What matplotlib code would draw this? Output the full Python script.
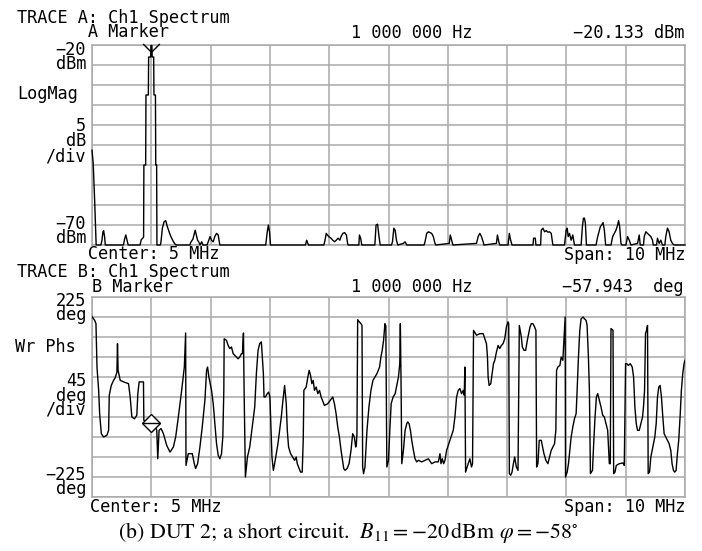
import matplotlib
matplotlib.use("Agg")
import matplotlib.pyplot as plt
from matplotlib.path import Path
import numpy as np

# ---------------- data ----------------
# Trace A: log magnitude spectrum (MHz, dBm)
top_freq_mhz = [
    0.000, 0.020, 0.045, 0.070,
    0.150, 0.168, 0.185, 0.196, 0.213, 0.224,
    0.530, 0.550, 0.570, 0.590, 0.610,
    0.810, 0.830, 0.855, 0.870, 0.875, 0.905, 0.910, 0.950, 0.955, 0.990, 0.995, 1.010, 1.015, 1.040, 1.045, 1.070, 1.075, 1.090, 1.095,
    1.150, 1.160, 1.187, 1.215, 1.243, 1.270, 1.300, 1.330, 1.360, 1.390, 1.420,
    1.650, 1.670, 1.700, 1.720, 1.740, 1.760, 1.780, 1.800, 1.820, 1.850, 1.870,
    1.940, 1.960, 1.990, 2.016, 2.044, 2.070, 2.100, 2.128, 2.156,
    2.930, 2.955, 2.975, 2.995, 3.010,
    3.600, 3.620, 3.650,
    3.910, 3.930, 3.950, 3.970, 4.000, 4.030, 4.060, 4.090, 4.120, 4.150, 4.180, 4.200, 4.230, 4.260, 4.290, 4.310, 4.320,
    4.500, 4.510, 4.530, 4.550,
    4.770, 4.790, 4.816, 4.840, 4.860,
    5.050, 5.067, 5.090, 5.112, 5.134, 5.157,
    5.250, 5.280, 5.310,
    5.600, 5.616, 5.644, 5.672, 5.700, 5.728, 5.756, 5.784, 5.800,
    6.025, 6.042, 6.064, 6.086,
    6.484, 6.512, 6.540, 6.568, 6.596, 6.610,
    6.820, 6.837, 6.860, 6.875,
    7.016, 7.038, 7.060, 7.083,
    7.436, 7.447, 7.475, 7.486,
    7.565, 7.576, 7.604, 7.632, 7.660, 7.688, 7.716, 7.744, 7.772,
    7.968, 7.996, 8.013, 8.030, 8.052, 8.080, 8.108, 8.136,
    8.248, 8.270, 8.287, 8.304, 8.320, 8.338,
    8.500, 8.528, 8.573, 8.595, 8.618, 8.640, 8.662,
    8.752, 8.780, 8.808, 8.836, 8.864, 8.880, 8.898, 8.920, 8.935,
    9.004, 9.032, 9.060, 9.088,
    9.200, 9.228, 9.245,
    9.300, 9.312, 9.340, 9.368, 9.396, 9.424, 9.452, 9.465,
    9.520, 9.536, 9.564, 9.592, 9.620,
    9.660, 9.676, 9.704, 9.732, 9.760, 9.788, 9.816, 10.000,
]
top_level_dbm = [
    -46.3, -49.5, -59.0, -70.0,
    -70.0, -68.8, -66.7, -66.4, -68.0, -70.0,
    -70.0, -68.5, -67.5, -68.7, -70.0,
    -70.0, -68.7, -68.3, -68.0, -50.0, -50.0, -32.5, -32.5, -23.0, -23.0, -20.13, -20.13, -23.0, -23.0, -32.5, -32.5, -50.0, -50.0, -70.0,
    -70.0, -69.6, -65.8, -64.2, -63.9, -65.4, -66.7, -67.9, -68.8, -69.6, -70.0,
    -70.0, -69.2, -68.6, -67.5, -66.3, -67.5, -68.8, -69.2, -70.0, -69.2, -70.0,
    -70.0, -69.2, -67.9, -68.8, -69.2, -67.9, -67.1, -67.5, -70.0,
    -70.0, -66.7, -65.0, -66.9, -70.0,
    -70.0, -68.8, -70.0,
    -70.0, -68.8, -67.1, -67.5, -68.0, -68.3, -68.8, -69.2, -68.8, -68.3, -68.8, -67.9, -67.1, -66.9, -67.5, -69.6, -70.0,
    -70.0, -67.5, -68.3, -70.0,
    -70.0, -65.0, -64.8, -67.9, -70.0,
    -70.0, -69.2, -65.8, -66.3, -68.8, -70.0,
    -69.6, -69.2, -70.0,
    -70.0, -69.2, -67.1, -66.7, -66.9, -67.1, -67.9, -69.6, -70.0,
    -69.6, -67.5, -68.8, -70.0,
    -69.6, -67.9, -67.1, -67.9, -69.2, -70.0,
    -69.6, -67.5, -69.2, -70.0,
    -70.0, -67.1, -68.8, -70.0,
    -70.0, -68.3, -68.3, -70.0,
    -70.0, -66.3, -65.8, -66.7, -66.4, -66.8, -66.7, -67.1, -70.0,
    -70.0, -66.3, -65.8, -67.9, -67.1, -68.8, -67.5, -70.0,
    -70.0, -65.4, -63.3, -63.3, -64.6, -70.0,
    -70.0, -67.9, -65.4, -65.0, -64.4, -66.3, -70.0,
    -70.0, -67.9, -67.1, -66.3, -65.0, -63.9, -65.4, -69.6, -70.0,
    -70.0, -67.9, -68.8, -70.0,
    -69.6, -67.5, -70.0,
    -70.0, -67.9, -66.7, -67.1, -67.5, -67.9, -68.8, -70.0,
    -70.0, -68.3, -69.6, -68.8, -70.0,
    -70.0, -67.9, -65.8, -66.7, -68.8, -69.6, -70.0, -70.0,
]

# Trace B: wrapped phase (MHz, deg)
phase_freq_mhz = [
    0.000, 0.045, 0.067, 0.084, 0.112, 0.129, 0.157, 0.196, 0.252, 0.280, 0.291, 0.325, 0.364, 0.392, 0.420, 0.430, 0.440,
    0.476, 0.532, 0.616, 0.644, 0.672, 0.717, 0.756, 0.773, 0.795, 0.868, 0.874, 0.952, 1.000, 1.064, 1.092, 1.109, 1.131,
    1.165, 1.204, 1.260, 1.316, 1.372, 1.411, 1.456, 1.512, 1.557, 1.579, 1.585, 1.624, 1.691, 1.725, 1.747, 1.781, 1.820,
    1.859, 1.904, 1.932, 1.949, 1.971, 2.016, 2.044, 2.072, 2.100, 2.128, 2.156, 2.184, 2.206, 2.223, 2.229, 2.268, 2.296,
    2.324, 2.352, 2.380, 2.436, 2.464, 2.492, 2.520, 2.537, 2.554, 2.565, 2.587, 2.621, 2.660, 2.688, 2.744, 2.772, 2.800,
    2.828, 2.856, 2.873, 2.890, 2.901, 2.923, 2.957, 2.979, 3.000, 3.035, 3.058, 3.080, 3.108, 3.136, 3.164, 3.192, 3.220,
    3.248, 3.276, 3.293, 3.315, 3.349, 3.416, 3.444, 3.461, 3.483, 3.517, 3.545, 3.562, 3.573, 3.612, 3.640, 3.662, 3.685,
    3.707, 3.730, 3.752, 3.780, 3.808, 3.836, 3.864, 3.920, 3.976, 4.060, 4.088, 4.116, 4.144, 4.172, 4.200, 4.245, 4.267,
    4.301, 4.335, 4.368, 4.396, 4.424, 4.446, 4.457, 4.468, 4.480, 4.508, 4.536, 4.553, 4.564, 4.580, 4.603, 4.637, 4.670,
    4.704, 4.738, 4.771, 4.805, 4.850, 4.872, 4.894, 4.917, 4.940, 4.955, 4.972, 5.000, 5.022, 5.045, 5.078, 5.112, 5.146,
    5.168, 5.190, 5.200, 5.213, 5.224, 5.252, 5.280, 5.308, 5.325, 5.347, 5.370, 5.392, 5.420, 5.448, 5.476, 5.504, 5.560,
    5.616, 5.672, 5.728, 5.784, 5.840, 5.868, 5.885, 5.907, 5.930, 5.952, 5.980, 6.036, 6.092, 6.120, 6.148, 6.176, 6.204,
    6.232, 6.260, 6.277, 6.288, 6.300, 6.344, 6.372, 6.400, 6.417, 6.434, 6.484, 6.540, 6.596, 6.624, 6.652, 6.669, 6.680,
    6.697, 6.725, 6.747, 6.770, 6.792, 6.820, 6.848, 6.876, 6.904, 6.932, 6.960, 6.988, 7.016, 7.027, 7.038, 7.061, 7.083,
    7.106, 7.128, 7.156, 7.184, 7.206, 7.240, 7.257, 7.285, 7.313, 7.341, 7.363, 7.386, 7.408, 7.436, 7.464, 7.486, 7.498,
    7.520, 7.542, 7.576, 7.598, 7.621, 7.654, 7.688, 7.716, 7.744, 7.772, 7.800, 7.822, 7.834, 7.856, 7.890, 7.912, 7.940,
    7.979, 7.985, 8.013, 8.035, 8.058, 8.080, 8.108, 8.136, 8.164, 8.181, 8.203, 8.226, 8.248, 8.282, 8.304, 8.332, 8.349,
    8.371, 8.388, 8.405, 8.440, 8.460, 8.483, 8.506, 8.528, 8.556, 8.584, 8.612, 8.640, 8.668, 8.696, 8.724, 8.740, 8.752,
    8.786, 8.797, 8.819, 8.842, 8.892, 8.954, 8.976, 8.998, 9.020, 9.043, 9.077, 9.110, 9.133, 9.155, 9.178, 9.200, 9.228,
    9.256, 9.284, 9.300, 9.318, 9.334, 9.351, 9.368, 9.379, 9.402, 9.424, 9.446, 9.469, 9.491, 9.514, 9.536, 9.558, 9.580,
    9.603, 9.626, 9.648, 9.676, 9.704, 9.732, 9.760, 9.782, 9.805, 9.827, 9.850, 9.872, 9.894, 9.917, 9.939, 9.962, 9.984,
    10.000,
]
phase_deg = [
    181, 172.5, 165, 67.5, 15, -37.5, -82.5, -90, -86, -75, 4, 26, 37.5, 43.5, 56, 120, 60,
    37.5, 34, 30, 0, -45, -49, -41, 7.5, 34, 34, -52.5, -56, -58, -64, -75, -139, -75,
    -71, -82.5, -109, -124, -112.5, -90, -45, 15, 67.5, 144, -154, -127.5, -127.5, -150, -161, -150, -112.5,
    -67.5, -7.5, 60, 67.5, 45, 15, -15, -60, -105, -131, -139, -127.5, -90, 15, 131, 127.5, 116,
    109, 112.5, 97.5, 90, 86, 90, 97.5, 97.5, 144, 15, -180, -135, -112.5, -82.5, -22.5, 52.5, 105,
    120, 124, 90, 52.5, 0, 0, 7.5, 11, 0, -135, -165, -150, -127.5, -105, -75, -45, -7.5,
    26, -15, -75, -112.5, -127.5, -142.5, -135, -150, -157.5, -169, -169, -97.5, 15, 22.5, 45, 60, 49,
    30, 37.5, 15, 22.5, 7.5, 15, 0, -19, -15, 0, -15, -37.5, -67.5, -90, -120, -161, -165,
    -161, -150, -120, -82.5, -90, -112.5, -109, -82.5, 174, 169, 165, 161, -157.5, -172.5, -157.5, -75, -22.5,
    15, 37.5, 45, 52.5, 67.5, 90, 105, 127.5, 165, 160, -157.5, -142.5, -75, -15, 0, 7.5, 30,
    45, 75, 165, 15, -150, -120, -75, -60, -56, -60, -75, -97.5, -120, -139, -146, -142.5, -146,
    -142.5, -139, -150, -146, -146, -127.5, -150, -139, -150, -142.5, -120, -97.5, -75, -45, 0, 15, 19,
    7.5, 15, 4, 67.5, -169, -150, -139, -157.5, -150, 150, 139, 142.5, 142.5, 131, 120, 90, 45,
    26, 30, 52.5, 75, 82.5, 101, 116, 109, 116, 120, 131, 157.5, 169, 165, -172.5, -176, -169,
    -150, -135, -157.5, -165, 161, 135, 112.5, 105, 105, 127.5, 142.5, 157.5, 165, 165, 157.5, 150, -157.5,
    -150, -97.5, -97.5, -112.5, -127.5, -142.5, -150, -135, -120, -112.5, -105, -75, 60, 67.5, 71, 90, 82.5,
    180, -180, -169, -150, -120, -90, -67.5, -49, -37.5, 15, 90, 150, 176, 180, 176, 172.5, 161,
    90, 15, -172.5, -165, -105, -45, 0, 7.5, -7.5, -22.5, -41, -45, -60, -75, -150, -150, 154,
    150, -172.5, -169, -154, -150, -148.5, -154, 75, 75, 71, 75, 67.5, 45, -22.5, -60, -75, -75,
    -60, -45, -22.5, 15, 142.5, 150, 161, -172.5, -169, -135, -120, -105, -90, -60, 0, 22.5, 26,
    0, -45, -82.5, -90, -97.5, -105, -120, -150, -165, -169, -165, -127.5, -97.5, -45, 15, 52.5, 75,
    82.5,
]

marker_freq_mhz = 1.0
marker_a_dbm = -20.133
marker_b_deg = -57.943

# ---------------- figure ----------------
W, H = 702, 551
plt.rcParams['mathtext.fontset'] = 'stix'
fig = plt.figure(figsize=(W / 100, H / 100), dpi=100)
fig.patch.set_facecolor('white')

GRID = '#a9a9a9'
MONO = 'DejaVu Sans Mono'
FS = 12.2


def px_axes(x0, y0, x1, y1):
    return fig.add_axes([x0 / W, 1 - y1 / H, (x1 - x0) / W, (y1 - y0) / H])


def style(ax, ylo, yhi, ystep):
    ax.set_xlim(0, 10)
    ax.set_ylim(ylo, yhi)
    ax.set_xticks(np.arange(0, 11, 1))
    ax.set_yticks(np.arange(ylo, yhi + ystep / 2, ystep))
    ax.grid(True, color=GRID, linewidth=1.1)
    ax.tick_params(length=0, labelbottom=False, labelleft=False)
    for s in ax.spines.values():
        s.set_color(GRID)
        s.set_linewidth(1.1)
    ax.set_axisbelow(True)


def label(x, y, s, ha='left', ls=1.0, **kw):
    # y is the baseline of the LAST line of the text block
    fig.text(x / W, 1 - y / H, s, ha=ha, va='baseline', multialignment=ha,
             linespacing=ls, family=MONO, fontsize=kw.pop('fontsize', FS),
             color='black', **kw)


axA = px_axes(92, 45, 685, 245)
style(axA, -70, -20, 5)
axA.plot(top_freq_mhz, top_level_dbm, color='black', lw=1.0, clip_on=False, zorder=3)
vpath = Path([(-1, 0.3), (0, -0.7), (1, 0.3)], [Path.MOVETO, Path.LINETO, Path.LINETO])
axA.plot([marker_freq_mhz], [marker_a_dbm], marker=vpath, ms=12, mew=1.0,
         mec='black', mfc='none', ls='none', clip_on=False, zorder=4)

axB = px_axes(92, 297, 685, 497)
style(axB, -225, 225, 45)
axB.plot(phase_freq_mhz, phase_deg, color='black', lw=1.0, zorder=3)
axB.plot([marker_freq_mhz], [marker_b_deg], marker='D', ms=9.2, mew=1.0,
         mec='black', mfc='white', ls='none', zorder=4)
axB.plot([marker_freq_mhz], [marker_b_deg], marker='_', ms=13, mew=1.0,
         mec='black', ls='none', zorder=5)

# ---- text, trace A ----
label(17, 37, 'TRACE A: Ch1 Spectrum\n       A Marker', ls=0.74)
label(351, 38, '1 000 000 Hz')
label(684, 38, '\u221220.133 dBm', ha='right')
label(86, 69, '\u221220\ndBm', ha='right', ls=0.74)
label(17, 99, 'LogMag')
label(86, 161, '5\ndB\n/div', ha='right', ls=0.8)
label(86, 243, '\u221270\ndBm', ha='right', ls=0.74)

# ---- centre line of trace A, title of trace B ----
label(17, 277, '       Center: 5 MHz\nTRACE B: Ch1 Spectrum', ls=0.97)
label(685, 260, 'Span: 10 MHz', ha='right')
label(92, 292, 'B Marker')
label(351, 292, '1 000 000 Hz')
label(684, 292, '\u221257.943  deg', ha='right')
label(86, 320, '225\ndeg', ha='right', ls=0.74)
label(15, 352, 'Wr Phs')
label(86, 415, '45\ndeg\n/div', ha='right', ls=0.74)
label(86, 494, '\u2212225\ndeg', ha='right', ls=0.69)
label(90, 512, 'Center: 5 MHz')
label(685, 512, 'Span: 10 MHz', ha='right')

fig.text(348 / W, 1 - 538 / H,
         r'(b) DUT 2; a short circuit.  $B_{11} = -20\,$dBm $\varphi = -58^{\circ}$',
         ha='center', va='baseline', family='STIXGeneral', fontsize=15.8, color='black')

fig.savefig('out.png', dpi=100)
